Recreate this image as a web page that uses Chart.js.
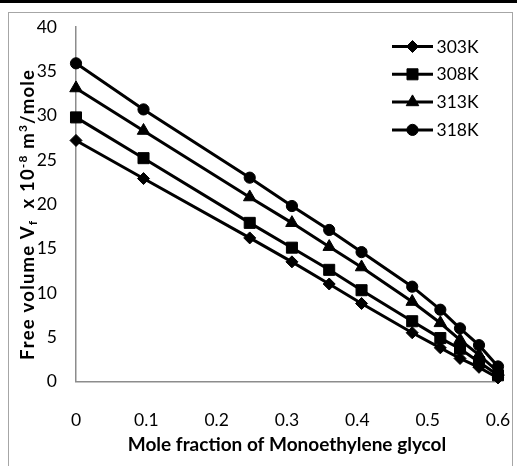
<!DOCTYPE html>
<html>
<head>
<meta charset="utf-8">
<script src="https://cdn.jsdelivr.net/npm/chart.js@4/dist/chart.umd.min.js"></script>
<style>
html,body{margin:0;padding:0;background:#fff;}
#wrap{width:517px;height:466px;position:relative;}
</style>
</head>
<body>
<div id="wrap"><canvas id="c" width="517" height="466"></canvas></div>
<script>
// ---- data ----
const moleFraction = [0, 0.096, 0.247, 0.307, 0.36, 0.406, 0.478, 0.518, 0.546, 0.573, 0.6];
const vf303K = [27.2, 22.9, 16.2, 13.5, 11.0, 8.8, 5.5, 3.8, 2.6, 1.6, 0.4];
const vf308K = [29.8, 25.2, 17.9, 15.1, 12.6, 10.3, 6.8, 4.9, 3.7, 2.2, 0.7];
const vf313K = [33.1, 28.3, 20.8, 17.9, 15.2, 12.9, 9.0, 6.6, 4.7, 3.0, 1.1];
const vf318K = [35.9, 30.7, 23.0, 19.8, 17.1, 14.6, 10.7, 8.1, 6.0, 4.1, 1.7];
const seriesLabels = ['303K', '308K', '313K', '318K'];
const xTickValues = [0, 0.1, 0.2, 0.3, 0.4, 0.5, 0.6];
const yTickValues = [0, 5, 10, 15, 20, 25, 30, 35, 40];
const xTitle = 'Mole fraction of Monoethylene glycol';
const yTitleParts = [
  ['Free volume V', 'n'], ['f', 'sub'], ['  x 10', 'n'], ['-8', 'sup'],
  [' m', 'n'], ['3', 'sup'], ['/mole', 'n']
];

// ---- styles ----
const FONT = 'Lato';
const styles = [
  {pointStyle: 'rectRot', radius: 6},
  {pointStyle: 'rect', radius: 7.8},
  {pointStyle: 'triangle', radius: 7.2},
  {pointStyle: 'circle', radius: 5.6}
];
const seriesValues = [vf303K, vf308K, vf313K, vf318K];

const datasets = seriesValues.map((vals, i) => ({
  label: seriesLabels[i],
  data: vals.map((v, j) => ({x: moleFraction[j], y: v})),
  borderColor: '#000',
  backgroundColor: '#000',
  borderWidth: 3,
  pointStyle: styles[i].pointStyle,
  pointRadius: styles[i].radius,
  pointBackgroundColor: '#000',
  pointBorderColor: '#000',
  pointBorderWidth: 1,
  tension: 0,
  showLine: true,
  clip: false
}));

const framePlugin = {
  id: 'frame',
  beforeDraw(chart) {
    const ctx = chart.ctx;
    ctx.save();
    ctx.fillStyle = '#fff';
    ctx.fillRect(0, 0, chart.width, chart.height);
    ctx.strokeStyle = '#a6a6a6';
    ctx.lineWidth = 1;
    ctx.strokeRect(8.5, 12.5, 504, 470);
    ctx.fillStyle = '#000';
    ctx.fillRect(0, 0, chart.width, 3);
    ctx.restore();
  }
};

const yTitlePlugin = {
  id: 'yTitleRich',
  afterDraw(chart) {
    const ctx = chart.ctx;
    const main = 'bold 18.5px ' + FONT;
    const small = 'bold 12px ' + FONT;
    const targetLen = 288;
    ctx.save();
    // natural width and char count
    let natural = 0, nChars = 0;
    yTitleParts.forEach(([t, k]) => {
      ctx.font = k === 'n' ? main : small;
      natural += ctx.measureText(t).width;
      nChars += t.length;
    });
    const extra = Math.max(0, (targetLen - natural) / (nChars - 1));
    const total = natural + extra * (nChars - 1);
    const cy = 216;
    ctx.translate(33.5, cy);
    ctx.rotate(-Math.PI / 2);
    ctx.fillStyle = '#000';
    ctx.textBaseline = 'alphabetic';
    ctx.textAlign = 'left';
    let x = -total / 2;
    yTitleParts.forEach(([t, k]) => {
      ctx.font = k === 'n' ? main : small;
      const dy = k === 'sup' ? -7 : (k === 'sub' ? 3.5 : 0);
      for (const ch of t) {
        ctx.fillText(ch, x, dy);
        x += ctx.measureText(ch).width + extra;
      }
    });
    ctx.restore();
  }
};

const legendPlugin = {
  id: 'lineLegend',
  afterDraw(chart) {
    const ctx = chart.ctx;
    ctx.save();
    chart.data.datasets.forEach((ds, i) => {
      const y = 46.5 + i * 27.8;
      ctx.strokeStyle = '#000';
      ctx.lineWidth = 3;
      ctx.beginPath();
      ctx.moveTo(392, y);
      ctx.lineTo(433, y);
      ctx.stroke();
      ctx.fillStyle = '#000';
      ctx.lineWidth = 1;
      Chart.helpers.drawPoint(ctx, {pointStyle: ds.pointStyle, radius: ds.pointRadius, rotation: 0, borderWidth: 1}, 412.5, y);
      ctx.font = '17.5px ' + FONT;
      ctx.textBaseline = 'middle';
      ctx.textAlign = 'left';
      ctx.fillText(ds.label, 436.5, y + 0.5);
    });
    ctx.restore();
  }
};

new Chart(document.getElementById('c'), {
  type: 'scatter',
  data: {datasets},
  plugins: [framePlugin, yTitlePlugin, legendPlugin],
  options: {
    responsive: false,
    animation: false,
    devicePixelRatio: 1,
    layout: {padding: {left: 0, right: 19, top: 27, bottom: 0}},
    plugins: {legend: {display: false}, tooltip: {enabled: false}},
    scales: {
      x: {
        type: 'linear',
        min: 0, max: 0.6,
        afterBuildTicks(scale) { scale.ticks = xTickValues.map(v => ({value: v})); },
        afterFit(scale) { scale.height = 84.5; },
        grid: {display: true, drawOnChartArea: false, drawTicks: true, tickLength: 28, tickColor: 'rgba(0,0,0,0)'},
        border: {display: true, color: '#8c8c8c', width: 1.5},
        ticks: {
          color: '#000', padding: 0, maxRotation: 0,
          font: {family: FONT, size: 17.5},
          callback: v => String(Number(Number(v).toFixed(1)))
        },
        title: {
          display: true, text: xTitle, color: '#000',
          font: {family: FONT, size: 19, weight: 'bold'},
          padding: {top: 0, bottom: 10}
        }
      },
      y: {
        type: 'linear',
        min: 0, max: 40,
        afterBuildTicks(scale) { scale.ticks = yTickValues.map(v => ({value: v})); },
        afterFit(scale) { scale.width = 76; },
        grid: {display: true, drawOnChartArea: false, drawTicks: true, tickLength: 19, tickColor: 'rgba(0,0,0,0)'},
        border: {display: true, color: '#8c8c8c', width: 1.5},
        ticks: {color: '#000', padding: 0, font: {family: FONT, size: 17.5}},
        title: {display: false}
      }
    }
  }
});
</script>
</body>
</html>
